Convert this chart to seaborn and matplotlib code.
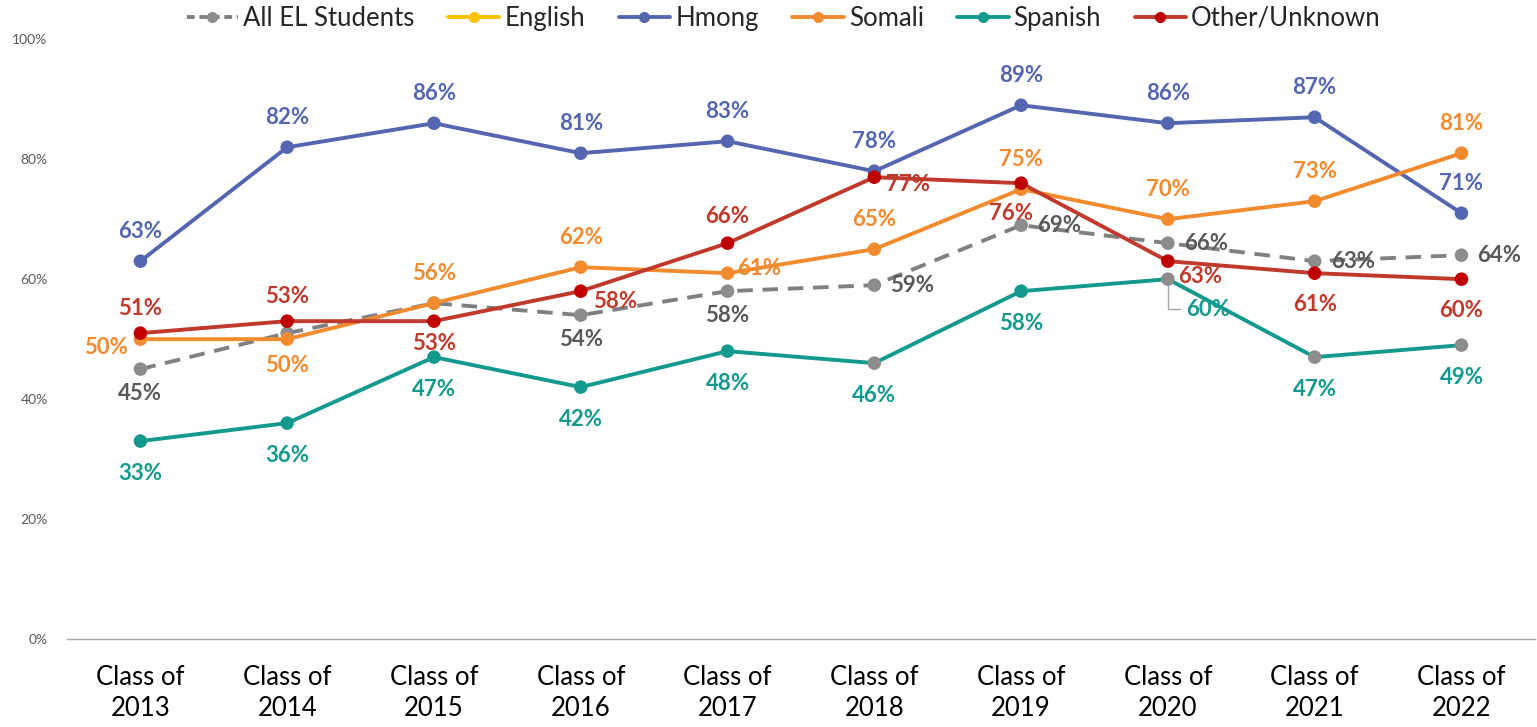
import numpy as np
import pandas as pd
import seaborn as sns
import matplotlib.pyplot as plt
from matplotlib.lines import Line2D

sns.set_style("white")
plt.rcParams["font.family"] = ["Lato", "DejaVu Sans"]

# ============================================
# DATA
# ============================================
years = ["2013", "2014", "2015", "2016", "2017", "2018", "2019", "2020", "2021", "2022"]
all_el = [45, 51, 56, 54, 58, 59, 69, 66, 63, 64]
english = [np.nan] * 10
hmong = [63, 82, 86, 81, 83, 78, 89, 86, 87, 71]
somali = [50, 50, 56, 62, 61, 65, 75, 70, 73, 81]
spanish = [33, 36, 47, 42, 48, 46, 58, 60, 47, 49]
other = [51, 53, 53, 58, 66, 77, 76, 63, 61, 60]

series_names = ["All EL Students", "English", "Hmong", "Somali", "Spanish", "Other/Unknown"]
series_vals = [all_el, english, hmong, somali, spanish, other]

# ============================================
# STYLE
# ============================================
line_colors = {"All EL Students": "#808080", "English": "#FFC000", "Hmong": "#5566B0",
               "Somali": "#F28A2E", "Spanish": "#13998D", "Other/Unknown": "#C0392B"}
marker_colors = {"All EL Students": "#8C8C8C", "English": "#FFC000", "Hmong": "#5566B0",
                 "Somali": "#F28A2E", "Spanish": "#13998D", "Other/Unknown": "#C00000"}
text_colors = {"All EL Students": "#595959", "English": "#FFC000", "Hmong": "#5566B0",
               "Somali": "#F28A2E", "Spanish": "#13998D", "Other/Unknown": "#C0392B"}

# label placement: (dx, dy) in pixels, ha
A = (0, 30, "center")    # above
R = (16, 0, "left")      # right
placement = {
    "All EL Students": [(0, -24, "center"), None, None, (0, -24, "center"), (0, -24, "center"),
                        R, R, R, R, R],
    "Hmong": [A] * 10,
    "Somali": [(-12, -8, "right"), (0, -26, "center"), A, A, (10, 5, "left"), A, A, A, A, A],
    "Spanish": [(0, -32, "center")] * 7 + [None] + [(0, -32, "center")] * 2,
    "Other/Unknown": [(0, 25, "center"), (0, 25, "center"), (0, -22, "center"), (12, -10, "left"),
                      (0, 27, "center"), (12, -7, "left"), (-10, -30, "center"), (10, -15, "left"),
                      (0, -31, "center"), (0, -31, "center")],
}
# Spanish points drawn with grey markers in the original
spanish_grey = [5, 7, 8, 9]

x = np.arange(len(years))

fig = plt.figure(figsize=(15.37, 7.27), dpi=100)
ax = fig.add_axes([0.0436, 0.121, 0.955, 0.825])

for name, vals in zip(series_names, series_vals):
    if name == "English":
        continue
    mcols = [marker_colors[name]] * len(x)
    if name == "Spanish":
        for i in spanish_grey:
            mcols[i] = "#8C8C8C"
    sns.lineplot(x=x, y=vals, ax=ax, color=line_colors[name], lw=2.8,
                 linestyle=(0, (4, 2.5)) if name == "All EL Students" else "-",
                 zorder=2)
    ax.scatter(x, vals, s=95, c=mcols, zorder=3, linewidths=0)

# data labels
for name, vals in zip(series_names, series_vals):
    if name not in placement:
        continue
    for i, v in enumerate(vals):
        p = placement[name][i]
        if p is None:
            continue
        dx, dy, ha = p
        ax.annotate(f"{v}%", (x[i], v), xytext=(dx, dy), textcoords="offset pixels",
                    ha=ha, va="center", fontsize=16, fontweight="bold",
                    color=text_colors[name], zorder=4)

# Spanish 2020 label with leader line
ax.annotate(f"{spanish[7]}%", (x[7], spanish[7]), xytext=(18, -30), textcoords="offset pixels",
            ha="left", va="center", fontsize=16, fontweight="bold",
            color=text_colors["Spanish"], zorder=4,
            arrowprops=dict(arrowstyle="-", color="#A6A6A6", lw=1,
                            connectionstyle="angle,angleA=0,angleB=90,rad=0",
                            shrinkA=2, shrinkB=4))

# ============================================
# AXES
# ============================================
ax.set_xlim(-0.5, 9.5)
ax.set_ylim(0, 100)
ax.set_yticks([0, 20, 40, 60, 80, 100])
ax.set_yticklabels([f"{t}%" for t in [0, 20, 40, 60, 80, 100]], fontsize=10, color="#595959")
ax.set_xticks(x)
ax.set_xticklabels([f"Class of\n{y}" for y in years], fontsize=18.5, color="#000000",
                   linespacing=1.3)
ax.tick_params(axis="x", length=0, pad=19)
ax.tick_params(axis="y", length=0, pad=14)
for s in ["top", "right", "left"]:
    ax.spines[s].set_visible(False)
ax.spines["bottom"].set_color("#A6A6A6")
ax.spines["bottom"].set_linewidth(1)
ax.grid(False)
ax.set_xlabel("")
ax.set_ylabel("")

# legend
handles = []
for name in series_names:
    handles.append(Line2D([0], [0], color=line_colors[name], lw=2.8,
                          linestyle=(0, (2, 1.2)) if name == "All EL Students" else "-",
                          marker="o", markersize=8, markerfacecolor=marker_colors[name],
                          markeredgewidth=0))
fig.legend(handles, series_names, loc="center", bbox_to_anchor=(0.51, 0.975), ncol=6,
           frameon=False, fontsize=18.5, handlelength=2.0, handletextpad=0.2, columnspacing=1.3)

plt.savefig("out.png", dpi=100)
plt.close()
